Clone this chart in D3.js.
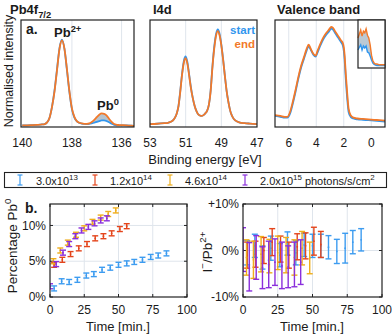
<!DOCTYPE html>
<html><head><meta charset="utf-8">
<script src="https://cdn.jsdelivr.net/npm/d3@7"></script>
<style>
body{margin:0;background:#fff}
svg{display:block}
text{font-family:"Liberation Sans",Arial,Helvetica,sans-serif;fill:#1a1a1a}
</style>
</head><body><svg id="c" width="392" height="336"></svg>
<script>
// ---------- DATA ----------
// Pb4f7/2 spectra (binding energy eV, normalised intensity)
const pb4fBE    = [140.0,139.8,139.6,139.4,139.2,139.1,139.0,138.9,138.8,138.7,138.6,138.5,138.4,138.3,138.2,138.1,138.0,137.9,137.8,137.7,137.6,137.5,137.4,137.3,137.2,137.1,137.0,136.9,136.8,136.7,136.6,136.5,136.4,136.3,136.2,136.1,136.0,135.8,135.6,135.5];
const pb4fStart = [0.0,0.0,0.002,0.005,0.01,0.015,0.035,0.09,0.22,0.41,0.66,0.91,1.01,0.90,0.65,0.39,0.19,0.09,0.045,0.028,0.02,0.016,0.014,0.016,0.022,0.03,0.04,0.05,0.058,0.058,0.05,0.035,0.018,0.006,0.0,-0.002,-0.002,-0.002,-0.005,-0.008];
const pb4fEnd   = [0.0,0.0,0.002,0.005,0.01,0.015,0.035,0.09,0.22,0.40,0.65,0.90,1.0,0.90,0.66,0.40,0.20,0.10,0.05,0.03,0.022,0.018,0.016,0.022,0.04,0.065,0.095,0.125,0.14,0.135,0.115,0.075,0.04,0.015,0.006,0.003,0.002,0.0,-0.005,-0.008];
const pb4fTicks = [140,138,136];

// I4d spectra
const i4dBE    = [53.0,52.6,52.2,52.0,51.8,51.7,51.6,51.5,51.4,51.3,51.2,51.1,51.0,50.9,50.8,50.7,50.6,50.5,50.4,50.3,50.2,50.1,50.0,49.9,49.8,49.7,49.6,49.5,49.4,49.3,49.2,49.1,49.0,48.9,48.8,48.7,48.6,48.5,48.4,48.3,48.2,48.0,47.7,47.4,47.0];
const i4dStart = [0.015,0.018,0.025,0.03,0.045,0.06,0.09,0.14,0.23,0.41,0.61,0.76,0.81,0.74,0.59,0.44,0.32,0.23,0.17,0.13,0.115,0.11,0.12,0.14,0.17,0.24,0.41,0.69,0.92,1.07,1.13,1.08,0.95,0.78,0.58,0.40,0.27,0.17,0.11,0.075,0.055,0.035,0.025,0.02,0.015];
const i4dEnd   = [0.015,0.018,0.025,0.03,0.045,0.06,0.09,0.14,0.23,0.40,0.60,0.74,0.79,0.72,0.58,0.43,0.32,0.23,0.17,0.13,0.115,0.11,0.12,0.14,0.17,0.24,0.40,0.68,0.90,1.05,1.11,1.06,0.94,0.77,0.58,0.40,0.27,0.17,0.11,0.075,0.055,0.035,0.025,0.02,0.015];
const i4dTicks = [53,51,49,47];

// Valence band spectra
const vbBE    = [7.0,6.6,6.3,6.1,5.9,5.7,5.5,5.3,5.1,4.9,4.7,4.55,4.4,4.2,4.05,3.9,3.7,3.5,3.3,3.1,2.9,2.8,2.6,2.4,2.2,2.05,1.95,1.85,1.75,1.65,1.5,1.3,1.0,0.6,0.2,-0.2,-0.6,-1.0];
const vbStart = [0.11,0.10,0.09,0.09,0.14,0.26,0.40,0.55,0.68,0.78,0.88,0.93,0.89,0.83,0.81,0.86,0.94,1.01,1.06,1.10,1.14,1.13,1.08,1.03,0.98,0.93,0.80,0.54,0.32,0.16,0.10,0.08,0.07,0.065,0.06,0.055,0.05,0.045];
const vbEnd   = [0.12,0.11,0.10,0.10,0.16,0.28,0.42,0.57,0.70,0.80,0.90,0.95,0.90,0.84,0.82,0.88,0.96,1.03,1.08,1.12,1.16,1.15,1.10,1.05,1.00,0.96,0.85,0.60,0.38,0.20,0.12,0.09,0.08,0.075,0.07,0.065,0.06,0.055];
const vbTicks = [6,4,2,0];

// Valence band inset (near the band edge)
const insetBE    = [1.2,1.1,1.0,0.9,0.8,0.7,0.6,0.5,0.4,0.3,0.2,0.1,0.0,-0.1,-0.2,-0.4,-0.6,-0.8];
const insetStart = [0.0775,0.081,0.084,0.0775,0.0825,0.080,0.0825,0.075,0.074,0.070,0.065,0.061,0.0595,0.0585,0.058,0.058,0.058,0.058];
const insetEnd   = [0.0925,0.0975,0.1025,0.095,0.101,0.099,0.104,0.096,0.0925,0.084,0.071,0.064,0.061,0.060,0.060,0.059,0.059,0.059];

// Panel b: Percentage Pb0 vs time, and I-/Pb2+ change vs time
const fluxLabels = ["3.0x10|13","1.2x10|14","4.6x10|14","2.0x10|15"];
const tBlue   = [3,8.5,14,20,26.5,32,38,44,50,56,61.5,67.5,73.5,79,85];
const pbBlue  = [1.2,2.2,2.1,2.4,3.0,3.2,3.8,4.1,4.5,4.7,4.9,5.2,5.6,5.8,6.1];
const iBlue   = [-0.5,1.0,-1.5,0.5,-1.0,1.5,-0.5,1.2,1.0,1.0,0.7,-0.2,0.5,1.8,2.3];
const iBlueErr= [2.6,2.5,2.5,2.6,2.5,2.5,2.6,2.5,2.5,2.5,2.5,2.6,3.2,2.5,2.4];
const tRed    = [3,9,15,21,27,33,39,45,51,56];
const pbRed   = [4.5,5.2,6.0,6.8,7.4,8.2,8.5,8.9,9.5,9.9];
const iRed    = [-1.0,-0.8,0.0,1.8,0.3,-1.0,0.8,1.0,2.0,1.3];
const iRedErr = [2.8,2.8,2.8,2.9,2.8,2.8,2.8,2.8,3.0,2.8];
const tYel    = [2.5,7.5,13,19,25,31,37,42.5,48];
const pbYel   = [5.0,6.5,7.6,8.7,9.6,10.5,11.1,11.6,12.1];
const iYel    = [-1.5,-2.0,-0.8,-1.2,-0.5,-1.0,-1.5,0.5,-1.6];
const iYelErr = [3.8,4.0,3.8,3.6,3.6,3.8,3.8,3.6,3.4];
const tPur    = [0,4.5,9.5,14,18.5,23,28,32.5,37,41.5];
const pbPur   = [1.5,4.6,6.2,7.4,8.5,9.3,9.8,10.3,10.7,11.0];
const iPur    = [0.2,-3.5,-1.5,-3.7,-3.0,-2.5,-3.2,-3.5,-3.0,-2.5];
const iPurErr = [4.7,5.2,4.7,4.5,5.0,5.0,5.0,4.5,4.8,4.8];
const pbErr = 0.35;
const timeTicks = [0,25,50,75,100];
const pbTicks = [0,5,10];
const iTicks = [-10,0,10];

// ---------- DRAW ----------
const svg = d3.select('#c');
const BLUE = '#3196ee', ORANGE = '#f2792a', FILLMID = '#a9b9c6', FRAME = '#222', GRID = '#dfe5ec';
const C = {blue:'#3d9cf0', red:'#e4451c', yel:'#efae1c', pur:'#8a2fdc'};

function spectrum(id, x0, x1, dom, ticks, gridVals, be, s, e) {
  const x = d3.scaleLinear().domain(dom).range([x0, x1]);
  const y = d3.scaleLinear().domain([-0.02, 1.24]).range([127, 20]);
  const g = svg.append('g');
  g.append('clipPath').attr('id', id).append('rect').attr('x', x0).attr('y', 20).attr('width', x1 - x0).attr('height', 107);
  g.selectAll('line.grid').data(gridVals).join('line').attr('class','grid')
    .attr('x1', d => x(d)).attr('x2', d => x(d)).attr('y1', 20).attr('y2', 127)
    .attr('stroke', GRID).attr('stroke-width', 1);
  const pts = be.map((b, i) => ({b, s: s[i], e: e[i]}));
  const cg = g.append('g').attr('clip-path', `url(#${id})`);
  cg.append('path').datum(pts)
    .attr('d', d3.area().x(d => x(d.b)).y0(d => y(d.s)).y1(d => y(d.e)).curve(d3.curveMonotoneX))
    .attr('fill', FILLMID).attr('opacity', 0.85);
  cg.append('path').datum(pts)
    .attr('d', d3.line().x(d => x(d.b)).y(d => y(d.s)).curve(d3.curveMonotoneX))
    .attr('fill', 'none').attr('stroke', BLUE).attr('stroke-width', 1.8);
  cg.append('path').datum(pts)
    .attr('d', d3.line().x(d => x(d.b)).y(d => y(d.e)).curve(d3.curveMonotoneX))
    .attr('fill', 'none').attr('stroke', ORANGE).attr('stroke-width', 1.8);
  g.append('rect').attr('x', x0).attr('y', 20).attr('width', x1 - x0).attr('height', 107)
    .attr('fill', 'none').attr('stroke', FRAME).attr('stroke-width', 1.2);
  g.selectAll('text.tick').data(ticks).join('text').attr('class','tick')
    .attr('x', d => x(d)).attr('y', 146.5).attr('text-anchor', 'middle')
    .attr('font-size', 12).text(d => d);
  return {x, y, g};
}

const p1 = spectrum('c1', 21, 134, [140.05, 135.5], pb4fTicks, [138, 136], pb4fBE, pb4fStart, pb4fEnd);
const p2 = spectrum('c2', 150, 257, [53, 47], i4dTicks, [51, 49], i4dBE, i4dStart, i4dEnd);
const p3 = spectrum('c3', 275, 385, [7, -1], vbTicks, [6, 4, 2, 0], vbBE, vbStart, vbEnd);

// inset
{
  const ix = d3.scaleLinear().domain([1.2, -0.8]).range([358, 385]);
  const iy = d3.scaleLinear().domain([0.055, 0.115]).range([68, 20]);
  const g = svg.append('g');
  g.append('rect').attr('x', 358).attr('y', 20).attr('width', 27).attr('height', 48).attr('fill', '#fff');
  const pts = insetBE.map((b, i) => ({b, s: insetStart[i], e: insetEnd[i]}));
  g.append('path').datum(pts)
    .attr('d', d3.area().x(d => ix(d.b)).y0(d => iy(d.s)).y1(d => iy(d.e)))
    .attr('fill', '#b4c3cf').attr('opacity', 0.9);
  g.append('path').datum(pts).attr('d', d3.line().x(d => ix(d.b)).y(d => iy(d.s)))
    .attr('fill', 'none').attr('stroke', BLUE).attr('stroke-width', 1.4);
  g.append('path').datum(pts).attr('d', d3.line().x(d => ix(d.b)).y(d => iy(d.e)))
    .attr('fill', 'none').attr('stroke', ORANGE).attr('stroke-width', 1.4);
  g.append('rect').attr('x', 358).attr('y', 20).attr('width', 27).attr('height', 48)
    .attr('fill', 'none').attr('stroke', FRAME).attr('stroke-width', 1.2);
}

// titles & annotations (top)
function rich(x, y, parts, opts = {}) {
  const t = svg.append('text').attr('x', x).attr('y', y)
    .attr('font-size', opts.size || 12).attr('font-weight', opts.weight || 'normal')
    .attr('text-anchor', opts.anchor || 'start');
  if (opts.fill) t.style('fill', opts.fill);
  if (opts.rotate) t.attr('transform', `rotate(-90,${x},${y})`);
  let shift = 0;
  parts.forEach(p => {
    const sp = t.append('tspan').text(p.t);
    const target = p.sup ? -0.42 : p.sub ? 0.3 : 0;
    const fs = (p.sup || p.sub) ? (opts.size || 12) * 0.72 : (opts.size || 12);
    sp.attr('font-size', fs);
    const dy = (target - shift) * (opts.size || 12);
    if (dy !== 0) sp.attr('dy', dy);
    shift = target;
  });
  return t;
}
rich(10, 14, [{t:'Pb4f'},{t:'7/2', sub:true}], {size:13, weight:'bold'});
rich(153, 14, [{t:'I4d'}], {size:13, weight:'bold'});
rich(277, 14, [{t:'Valence band'}], {size:13, weight:'bold'});
rich(26, 34, [{t:'a.'}], {size:14, weight:'bold'});
rich(54, 37, [{t:'Pb'},{t:'2+', sup:true}], {size:13, weight:'bold'});
rich(97, 110, [{t:'Pb'},{t:'0', sup:true}], {size:13, weight:'bold'});
rich(255, 34, [{t:'start'}], {size:11.5, weight:'bold', anchor:'end', fill:BLUE});
rich(255, 47.5, [{t:'end'}], {size:11.5, weight:'bold', anchor:'end', fill:ORANGE});
rich(13, 71, [{t:'Normalised intensity'}], {size:12.5, anchor:'middle', rotate:true});
rich(205, 164, [{t:'Binding energy [eV]'}], {size:13, anchor:'middle'});

// legend
svg.append('rect').attr('x', 4.5).attr('y', 172.5).attr('width', 382).attr('height', 15)
  .attr('fill', '#fff').attr('stroke', FRAME).attr('stroke-width', 1.1);
const legPos = [{ix:20, tx:36, c:C.blue}, {ix:95, tx:110, c:C.red}, {ix:170, tx:185, c:C.yel}, {ix:245, tx:260, c:C.pur}];
fluxLabels.forEach((lab, i) => {
  const p = legPos[i];
  const [base, ex] = lab.split('|');
  const g = svg.append('g').attr('stroke', p.c).attr('stroke-width', 1.2);
  g.append('line').attr('x1', p.ix).attr('x2', p.ix).attr('y1', 175).attr('y2', 185);
  g.append('line').attr('x1', p.ix - 2.5).attr('x2', p.ix + 2.5).attr('y1', 175).attr('y2', 175);
  g.append('line').attr('x1', p.ix - 2.5).attr('x2', p.ix + 2.5).attr('y1', 185).attr('y2', 185);
  const parts = [{t: base}, {t: ex, sup: true}];
  if (i === 3) { parts.push({t: ' photons/s/cm'}); parts.push({t:'2', sup:true}); }
  rich(p.tx, 184.5, parts, {size: 11});
});

// panel b
const xL = d3.scaleLinear().domain([0, 100]).range([50, 187]);
const yL = d3.scaleLinear().domain([0, 13]).range([297, 204]);
const xR = d3.scaleLinear().domain([0, 100]).range([243, 382]);
const yR = d3.scaleLinear().domain([-10, 10]).range([297, 204]);

function frameB(x, y, xg, yg, yt, yfmt, id) {
  const [xa, xb] = x.range(), [ya, yb] = y.range();
  const g = svg.append('g');
  g.selectAll('line.vg').data(xg).join('line').attr('x1', d => x(d)).attr('x2', d => x(d))
    .attr('y1', yb).attr('y2', ya).attr('stroke', GRID);
  g.selectAll('line.hg').data(yg).join('line').attr('y1', d => y(d)).attr('y2', d => y(d))
    .attr('x1', xa).attr('x2', xb).attr('stroke', GRID);
  g.append('clipPath').attr('id', id).append('rect').attr('x', xa).attr('y', yb).attr('width', xb - xa).attr('height', ya - yb);
  timeTicks.forEach(t => {
    g.append('line').attr('x1', x(t)).attr('x2', x(t)).attr('y1', ya).attr('y2', ya - 3).attr('stroke', FRAME);
    g.append('line').attr('x1', x(t)).attr('x2', x(t)).attr('y1', yb).attr('y2', yb + 3).attr('stroke', FRAME);
  });
  yt.forEach(t => {
    g.append('line').attr('x1', xa).attr('x2', xa + 3).attr('y1', y(t)).attr('y2', y(t)).attr('stroke', FRAME);
    g.append('line').attr('x1', xb).attr('x2', xb - 3).attr('y1', y(t)).attr('y2', y(t)).attr('stroke', FRAME);
  });
  g.selectAll('text.xt').data(timeTicks).join('text').attr('x', d => x(d)).attr('y', 314)
    .attr('text-anchor', 'middle').attr('font-size', 12).text(d => d);
  g.selectAll('text.yt').data(yt).join('text').attr('x', xa - 4).attr('y', d => y(d))
    .attr('dy', '0.35em').attr('text-anchor', 'end').attr('font-size', 12).text(yfmt);
  return g;
}
frameB(xL, yL, [25, 50, 75], [5, 10], pbTicks, d => d + '%', 'cl');
frameB(xR, yR, [25, 50, 75], [0], iTicks, d => (d > 0 ? '+' : d < 0 ? '-' : '') + Math.abs(d) + '%', 'cr');

function errbars(x, y, clip, t, v, e, color, cap) {
  const g = svg.append('g').attr('clip-path', `url(#${clip})`).attr('stroke', color).attr('stroke-width', 1.4);
  t.forEach((ti, i) => {
    const ee = Array.isArray(e) ? e[i] : e;
    const cx = x(ti), lo = y(v[i] - ee), hi = y(v[i] + ee);
    g.append('line').attr('x1', cx).attr('x2', cx).attr('y1', lo).attr('y2', hi);
    g.append('line').attr('x1', cx - cap).attr('x2', cx + cap).attr('y1', lo).attr('y2', lo);
    g.append('line').attr('x1', cx - cap).attr('x2', cx + cap).attr('y1', hi).attr('y2', hi);
    g.append('circle').attr('cx', cx).attr('cy', y(v[i])).attr('r', 0.9).attr('fill', color).attr('stroke', 'none');
  });
}
errbars(xL, yL, 'cl', tBlue, pbBlue, pbErr, C.blue, 3);
errbars(xL, yL, 'cl', tRed, pbRed, pbErr, C.red, 3);
errbars(xL, yL, 'cl', tYel, pbYel, pbErr, C.yel, 3);
errbars(xL, yL, 'cl', tPur, pbPur, pbErr, C.pur, 3);
errbars(xR, yR, 'cr', tBlue, iBlue, iBlueErr, C.blue, 3);
errbars(xR, yR, 'cr', tRed, iRed, iRedErr, C.red, 3);
errbars(xR, yR, 'cr', tYel, iYel, iYelErr, C.yel, 3);
errbars(xR, yR, 'cr', tPur, iPur, iPurErr, C.pur, 3);

[[50,187],[243,382]].forEach(([a,b]) => svg.append('rect').attr('x', a).attr('y', 204).attr('width', b - a).attr('height', 93)
  .attr('fill', 'none').attr('stroke', FRAME).attr('stroke-width', 1.2));

rich(25, 213, [{t:'b.'}], {size:14, weight:'bold'});
rich(118, 331, [{t:'Time [min.]'}], {size:13, anchor:'middle'});
rich(312, 331, [{t:'Time [min.]'}], {size:13, anchor:'middle'});
rich(17, 246, [{t:'Percentage Pb'},{t:'0', sup:true}], {size:13.5, anchor:'middle', rotate:true});
rich(212, 252, [{t:'I'},{t:'−', sup:true},{t:'/Pb'},{t:'2+', sup:true}], {size:13.5, anchor:'middle', rotate:true});
</script>
</body></html>
